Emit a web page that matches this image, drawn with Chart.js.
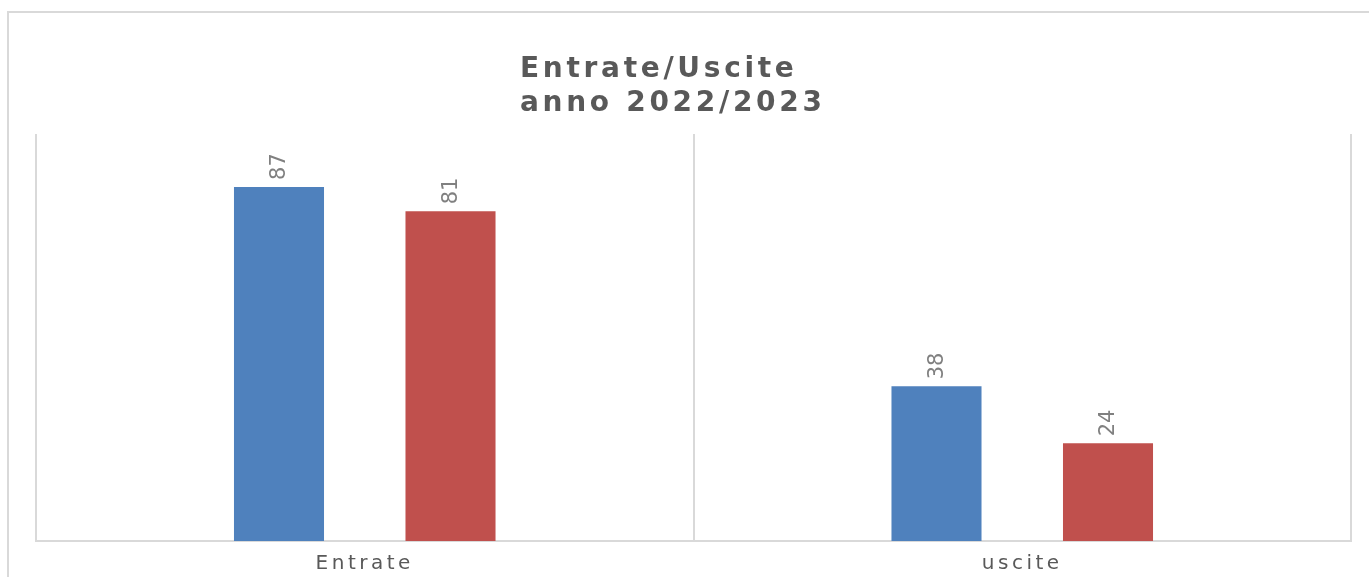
<!DOCTYPE html>
<html>
<head>
<meta charset="utf-8">
<script src="https://cdn.jsdelivr.net/npm/chart.js@4"></script>
<style>
  body { margin: 0; background: #fff; overflow: hidden; }
  #frame { position: absolute; left: 7px; top: 11px; width: 1400px; height: 600px; border: 2px solid #d9d9d9; box-sizing: border-box; }
  #canvas { position: absolute; left: 0; top: 0; }
</style>
</head>
<body>
<div id="frame"></div>
<canvas id="canvas" width="1369" height="577"></canvas>
<script>
var canvas = document.getElementById("canvas");
var ctx = canvas.getContext("2d");

// data
const categories = ['Entrate', 'uscite'];
const seriesNames = ['Serie1', 'Serie2'];
const serie1 = [87, 38];
const serie2 = [81, 24];
const titleLines = ['Entrate/Uscite', 'anno 2022/2023'];

const blue = '#4F81BD';
const red = '#C0504D';
const gridGray = '#d9d9d9';

// title is left aligned as a block, so draw it by hand
const titlePlugin = {
    id: 'blockTitle',
    beforeDraw(chart) {
        let c = chart.ctx;
        c.save();
        c.font = 'bold 28px "DejaVu Sans"';
        c.fillStyle = '#595959';
        c.textAlign = 'left';
        c.textBaseline = 'alphabetic';
        c.letterSpacing = '3.7px';
        c.fillText(titleLines[0], 520, 77);
        c.fillText(titleLines[1], 520, 111);
        c.restore();
        // spaced axis labels
        c.letterSpacing = '3.5px';
    },
    beforeDatasetsDraw(chart) {
        chart.ctx.letterSpacing = '0px';
    }
};

// rotated value labels above each bar
const valuePlugin = {
    id: 'valueLabels',
    afterDatasetsDraw(chart) {
        let c = chart.ctx;
        c.save();
        c.font = '21px "DejaVu Sans"';
        c.fillStyle = '#808080';
        c.textAlign = 'left';
        c.textBaseline = 'middle';
        chart.data.datasets.forEach((ds, i) => {
            chart.getDatasetMeta(i).data.forEach((bar, j) => {
                c.save();
                c.translate(bar.x, bar.y - 7);
                c.rotate(-Math.PI / 2);
                c.fillText(String(ds.data[j]), 0, 1);
                c.restore();
            });
        });
        c.restore();
    }
};

new Chart(ctx, {
    type: 'bar',
    data: {
        labels: categories,
        datasets: [
            { label: seriesNames[0], data: serie1, backgroundColor: blue },
            { label: seriesNames[1], data: serie2, backgroundColor: red }
        ]
    },
    options: {
        responsive: false,
        animation: false,
        categoryPercentage: 0.5217,
        barPercentage: 0.525,
        layout: { padding: { top: 134, left: 36, right: 18, bottom: 0 } },
        plugins: {
            legend: { display: false },
            title: { display: false },
            tooltip: { enabled: false }
        },
        scales: {
            x: {
                grid: { offset: true, color: gridGray, lineWidth: 2, drawTicks: false },
                border: { color: gridGray, width: 2 },
                ticks: {
                    color: '#595959',
                    font: { family: 'DejaVu Sans', size: 20 },
                    padding: 11
                },
                afterFit(scale) { scale.height = 36; }
            },
            y: {
                display: false,
                min: 0,
                max: 100
            }
        }
    },
    plugins: [titlePlugin, valuePlugin]
});
</script>
</body>
</html>
